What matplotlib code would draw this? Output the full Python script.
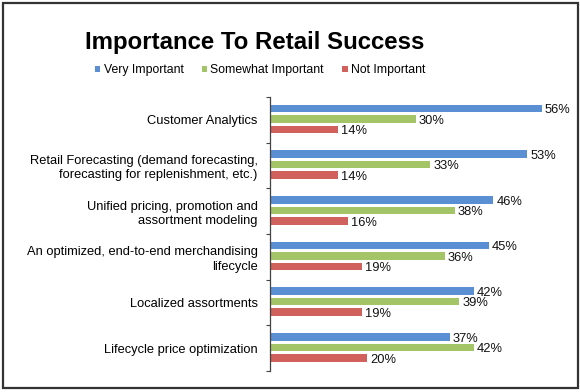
import matplotlib
matplotlib.use("Agg")
import matplotlib.pyplot as plt
from matplotlib.patches import Rectangle
import numpy as np

categories = [
    "Customer Analytics",
    "Retail Forecasting (demand forecasting,\nforecasting for replenishment, etc.)",
    "Unified pricing, promotion and\nassortment modeling",
    "An optimized, end-to-end merchandising\nlifecycle",
    "Localized assortments",
    "Lifecycle price optimization",
]
series_names = ["Very Important", "Somewhat Important", "Not Important"]
very = [56, 53, 46, 45, 42, 37]
somewhat = [30, 33, 38, 36, 39, 42]
not_imp = [14, 14, 16, 19, 19, 20]
colors = ["#5B8FD3", "#A4C468", "#D0615C"]

plt.rcParams['font.family'] = ['Liberation Sans', 'DejaVu Sans']

W, H = 580, 392
fig = plt.figure(figsize=(W / 100, H / 100), dpi=100)

# frame
fig.patches.append(Rectangle((2.5 / W, 4 / H), 575 / W, 385 / H, transform=fig.transFigure,
                             fill=False, edgecolor="#333333", linewidth=1.6))

ax_left, ax_right, ax_top, ax_bot = 270, 560, 97, 371
ax = fig.add_axes([ax_left / W, 1 - ax_bot / H, (ax_right - ax_left) / W, (ax_bot - ax_top) / H])
px_per_unit = 4.857
ax.set_xlim(0, (ax_right - ax_left) / px_per_unit)
n = len(categories)
ax.set_ylim(n, 0)

gh = (ax_bot - ax_top) / n
offsets = [11.5 / gh, 22 / gh, 32.5 / gh]
bh = 7.5 / gh
data = [very, somewhat, not_imp]
for s, (vals, off, c, name) in enumerate(zip(data, offsets, colors, series_names)):
    ys = np.arange(n) + off
    ax.barh(ys, vals, height=bh, color=c, label=name, edgecolor="none")
    for y, v in zip(ys, vals):
        ax.text(v + 0.6, y + 0.04, f"{v}%", va="center", ha="left", fontsize=9.3, color="#111111")

ax.set_yticks(np.arange(n + 1))
ax.set_yticklabels([])
ax.set_yticks(np.arange(n) + 0.5, minor=True)
ax.set_yticklabels(categories, minor=True, fontsize=9.3, ha="right", linespacing=1.25)
ax.tick_params(axis="y", which="minor", length=0, pad=9)
ax.tick_params(axis="y", which="major", length=3, width=0.8, direction="out", color="#444444")
ax.set_xticks([])
for sp in ["top", "right", "bottom"]:
    ax.spines[sp].set_visible(False)
ax.spines["left"].set_color("#444444")
ax.spines["left"].set_linewidth(0.9)

fig.text(255 / W, 1 - 42 / H, "Importance To Retail Success", ha="center", va="center",
         fontsize=17.3, fontweight="bold")

handles, labels = ax.get_legend_handles_labels()
fig.legend(handles, labels, loc="center", bbox_to_anchor=(260 / W, 1 - 70.5 / H), ncol=3,
           frameon=False, fontsize=8.8, handlelength=0.45, handleheight=0.45,
           handletextpad=0.25, columnspacing=1.5, borderpad=0)

fig.savefig("out.png", dpi=100)
